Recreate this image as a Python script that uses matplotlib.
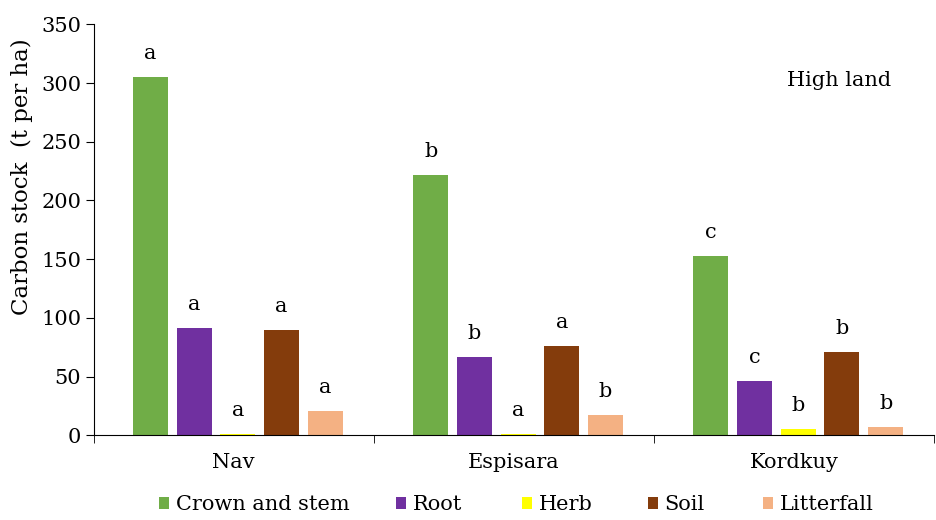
import matplotlib.pyplot as plt
import numpy as np

plt.rcParams['font.family'] = ['DejaVu Serif']

sites = ['Nav', 'Espisara', 'Kordkuy']
series = ['Crown and stem', 'Root', 'Herb', 'Soil', 'Litterfall']
colors = ['#70ad47', '#7030a0', '#ffff00', '#843c0c', '#f4b183']

crown = [305, 222, 153]
root = [91, 67, 46]
herb = [1, 1, 5]
soil = [90, 76, 71]
litter = [21, 17, 7]
values = [crown, root, herb, soil, litter]

letters = [['a', 'b', 'c'],
           ['a', 'b', 'c'],
           ['a', 'a', 'b'],
           ['a', 'a', 'b'],
           ['a', 'b', 'b']]

# left edge of each legend entry, in pixels of the 936 px figure
legend_x = [159, 396, 522, 648, 763]

fig = plt.figure(figsize=(9.36, 5.2), dpi=100)
ax = fig.add_axes([0.1, 0.163, 0.898, 0.79])

x = np.arange(len(sites))
step = 0.156
width = 0.125
shift = 0.015
handles = []
for i, (name, vals, c) in enumerate(zip(series, values, colors)):
    pos = x + (i - 2) * step + shift
    b = ax.bar(pos, vals, width, color=c, label=name)
    handles.append(b)
    for p, v, t in zip(pos, vals, letters[i]):
        ax.annotate(t, (p, v), xytext=(0, 13), textcoords='offset points',
                    ha='center', va='baseline', fontsize=15)

ax.set_xlim(-0.5, 2.5)
ax.set_ylim(0, 350)
ax.set_yticks(range(0, 351, 50))
ax.set_xticks(x)
ax.set_xticklabels(sites)
ax.set_xticks([-0.5, 0.5, 1.5, 2.5], minor=True)
ax.tick_params(axis='x', which='major', length=0, pad=13, labelsize=15)
ax.tick_params(axis='x', which='minor', length=6, direction='out')
ax.tick_params(axis='y', length=6, labelsize=15, pad=3)
ax.set_ylabel('Carbon stock  (t per ha)', fontsize=16.5)
ax.yaxis.set_label_coords(-0.072, 0.63)
for s in ['top', 'right']:
    ax.spines[s].set_visible(False)
ax.text(0.887, 0.864, 'High land', transform=ax.transAxes, ha='center',
        va='center', fontsize=15)

for h, name, lx in zip(handles, series, legend_x):
    leg = fig.legend([h], [name], loc='center left', frameon=False, fontsize=15,
                     bbox_to_anchor=(lx / 936, 1 - 505 / 520), borderpad=0,
                     borderaxespad=0, handlelength=0.5, handleheight=0.5,
                     handletextpad=0.3)

fig.savefig('out.png', dpi=100)
